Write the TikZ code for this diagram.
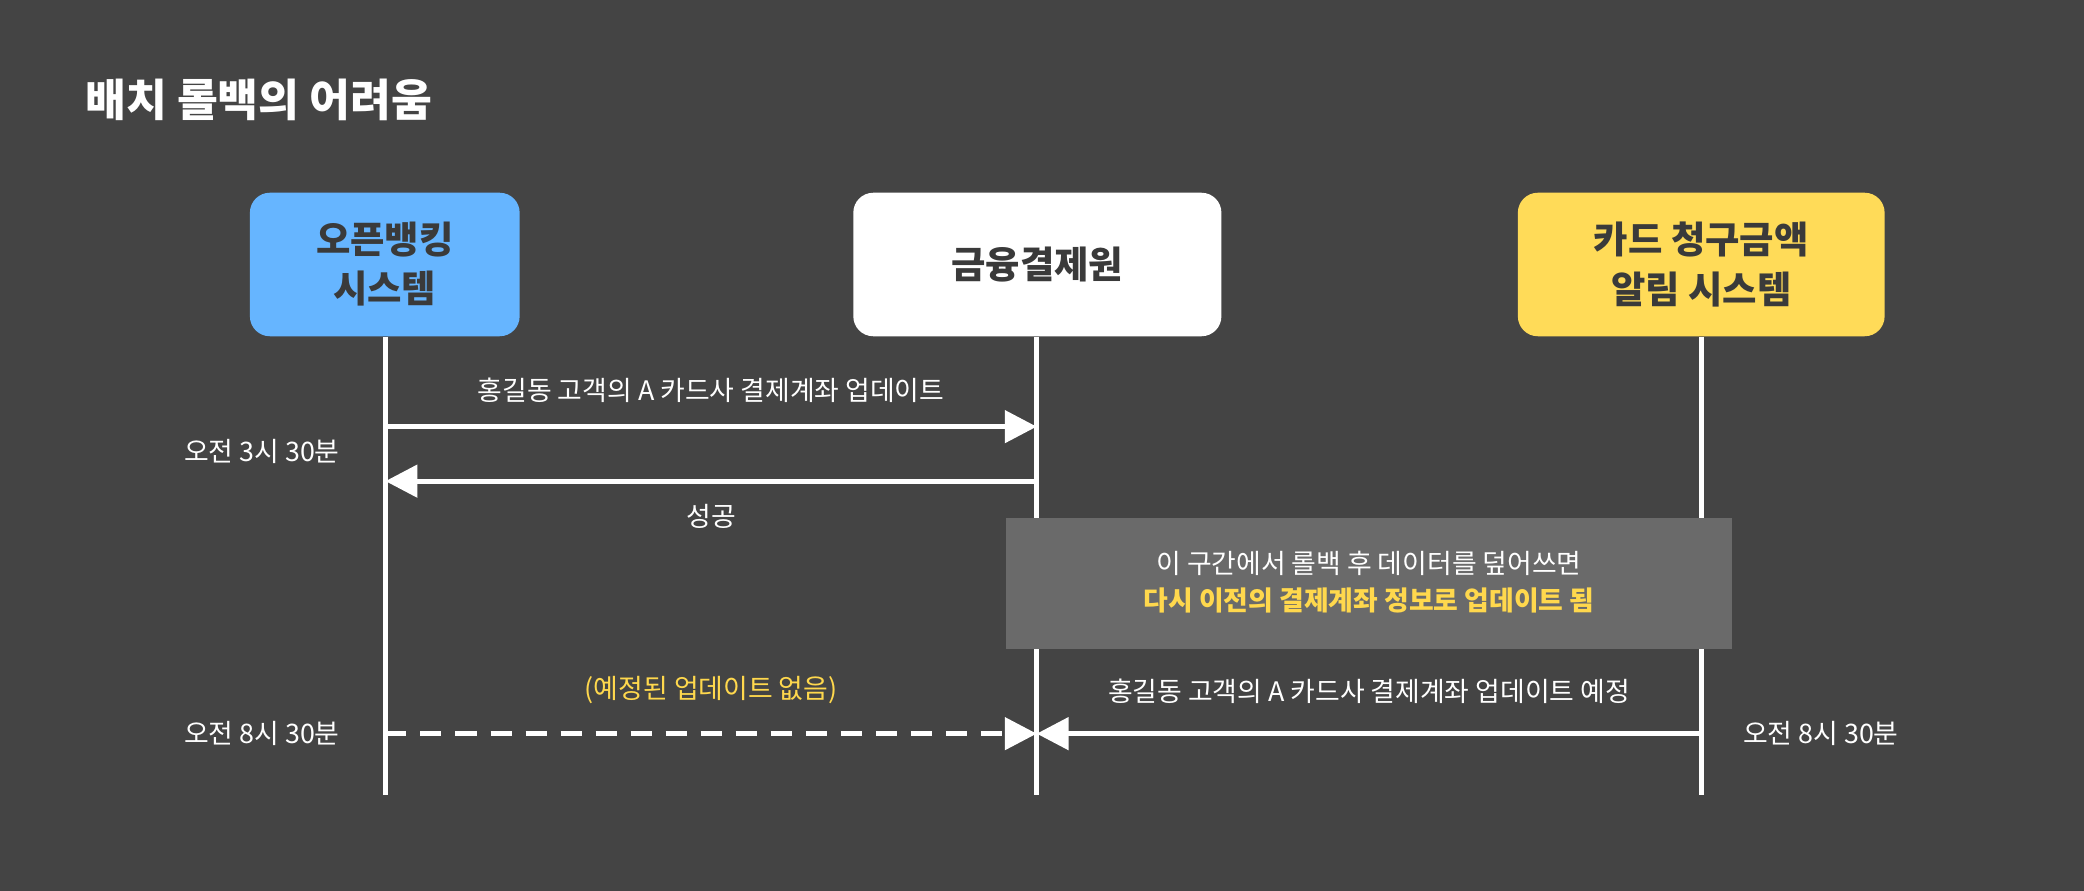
\documentclass[tikz,border=0pt]{standalone}
\usepackage{fontspec}
\setmainfont{Noto Sans CJK KR}
\usepackage{xcolor}
\usetikzlibrary{positioning,arrows.meta}
\definecolor{bgdark}{HTML}{444444}
\definecolor{txtdark}{HTML}{3A3A3A}
\definecolor{sysblue}{HTML}{66B5FF}
\definecolor{sysyellow}{HTML}{FFDB58}
\definecolor{noteyellow}{HTML}{FFD84D}
\definecolor{notegray}{HTML}{6A6A6A}
\tikzset{
  sysbox/.style={rounded corners=0.3cm, minimum width=4.06cm, minimum height=2.16cm, align=center, text=txtdark, font=\fontsize{16}{21}\selectfont\bfseries},
  life/.style={white, line width=2.2pt},
  msg/.style={white, line width=2.2pt, -{Triangle[length=0.48cm,width=0.48cm]}},
  lbl/.style={text=white, font=\fontsize{11.5}{14}\selectfont}
}
\begin{document}
\begin{tikzpicture}[x=0.02cm, y=-0.02cm]
\fill[bgdark] (0,0) rectangle (1568,670);
\useasboundingbox (0,0) rectangle (1568,670);

\node[anchor=west, text=white, font=\fontsize{19}{23}\selectfont\bfseries] (title) at (58,75) {배치 롤백의 어려움};

\node[sysbox, fill=sysblue] (bank) at (289.5,199) {오픈뱅킹\\시스템};
\node[sysbox, fill=white, minimum width=5.54cm] (kftc) at (780.5,199) {금융결제원};
\node[sysbox, fill=sysyellow, minimum width=5.52cm] (card) at (1280,199) {카드 청구금액\\알림 시스템};

\coordinate (bank_end) at (290,598);
\coordinate (kftc_end) at (780,598);
\coordinate (card_end) at (1280,598);
\draw[life] (bank.south -| bank_end) -- (bank_end);
\draw[life] (kftc.south -| kftc_end) -- (kftc_end);
\draw[life] (card.south -| card_end) -- (card_end);

% gap note
\fill[notegray] (757,390) rectangle (1303,488);
\node[lbl, align=center] (note) at (1030,438) {이 구간에서 롤백 후 데이터를 덮어쓰면\\[0.06cm]{\color{noteyellow}\bfseries 다시 이전의 결제계좌 정보로 업데이트 됨}};

% 3:30
\coordinate (bank_a) at (290,321);
\coordinate (kftc_a) at (780,321);
\coordinate (bank_b) at (290,362);
\coordinate (kftc_b) at (780,362);
\draw[msg] (bank_a) -- (kftc_a) node[midway, above=0.2cm, lbl] {홍길동 고객의 A 카드사 결제계좌 업데이트};
\draw[msg] (kftc_b) -- (bank_b) node[midway, below=0.2cm, lbl] {성공};
\node[lbl] (time1) at (197,340) {오전 3시 30분};

% 8:30
\coordinate (bank_c) at (290,552);
\coordinate (kftc_c) at (780,552);
\coordinate (card_c) at (1280,552);
\draw[msg, dashed, dash pattern=on 9pt off 6pt] (bank_c) -- (kftc_c)
    node[midway, above=0.3cm, lbl, text=noteyellow] {(예정된 업데이트 없음)};
\draw[msg] (card_c) -- (kftc_c)
    node[midway, above=0.3cm, lbl] {홍길동 고객의 A 카드사 결제계좌 업데이트 예정};
\node[lbl] (time2) at (197,552) {오전 8시 30분};
\node[lbl] (time3) at (1370,552) {오전 8시 30분};
\end{tikzpicture}
\end{document}
